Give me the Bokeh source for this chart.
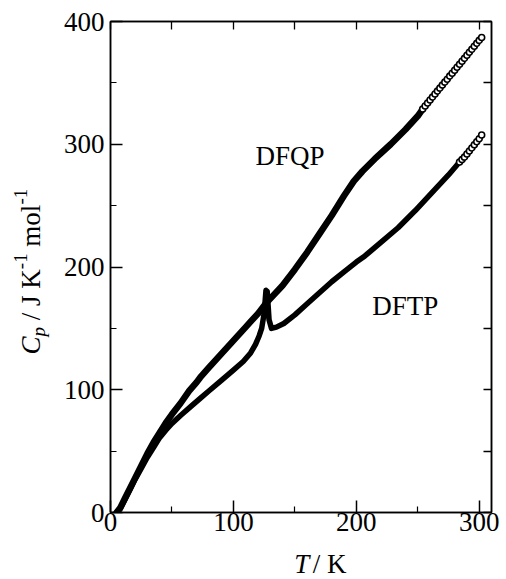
from bokeh.plotting import figure
from bokeh.models import Range1d, LinearAxis, FixedTicker, Label
from bokeh.layouts import row, column
from bokeh.embed import file_html
from bokeh.resources import INLINE
from bokeh.core.properties import value

# ---------------- data ----------------
dfqp_T = [5, 8, 12, 16, 20, 25, 30, 35, 40, 45, 50, 57, 64, 70, 73, 80, 90, 100, 110, 114,
          120, 127, 140, 150, 160, 170, 180, 190, 198, 205, 215, 228, 240, 250, 254]
dfqp_Cp = [0, 4, 12, 20, 28, 38, 48, 57, 65, 73, 80, 89, 99, 106, 110, 118, 129, 140, 151, 155.5,
           162, 171, 185, 198, 212, 227, 242, 258, 270, 278, 288, 300, 312, 323, 328.7]
dfqp_open_T = [254, 256, 258, 260, 262, 264, 266, 268, 270, 272, 274, 276, 278, 280, 282,
               284, 286, 288, 290, 292, 294, 296, 298, 300, 302]
dfqp_open_Cp = [328.7, 331.1, 333.6, 336.0, 338.4, 340.9, 343.3, 345.7, 348.2, 350.6, 353.0,
                355.5, 357.9, 360.3, 362.7, 365.2, 367.6, 370.0, 372.5, 374.9, 377.3, 379.8,
                382.2, 384.6, 387.0]

dftp_T = [5, 8, 12, 16, 20, 25, 30, 35, 40, 45, 50, 57, 65, 73, 80, 90, 100, 108, 114, 118,
          121, 123, 125, 126.5, 127.5, 129, 131, 135, 141, 150, 160, 170, 180, 190, 200, 207,
          220, 234, 248, 261, 275, 284]
dftp_Cp = [0, 3, 11, 19, 27, 36, 45, 53, 61, 67, 72.5, 79, 86, 93, 99, 107.5, 116, 123, 130, 137,
           144, 150, 162, 181, 180, 157, 150, 151, 154, 161, 170, 179, 188, 196, 204, 209,
           220, 232, 246, 260, 275, 285.5]
dftp_open_T = [284, 286, 288, 290, 292, 294, 296, 298, 300, 302]
dftp_open_Cp = [285.5, 287.5, 289.5, 292.0, 294.5, 297.0, 299.5, 302.0, 304.5, 307.5]

x_major = [0, 100, 200, 300]
x_minor = [50, 150, 250]
y_major = [0, 100, 200, 300, 400]
y_minor = [50, 150, 250, 350]

FONT = "Liberation Serif"
ROT = 1.5707963267948966

# ---------------- layout geometry (page coordinates) ----------------
W, H = 506, 579          # whole page
LW = 56                  # left strip (y title)
BH = 34                  # bottom strip (x title)
PW, PH = W - LW, H - BH  # main figure
FRAME_L, FRAME_R, FRAME_T, FRAME_B = 110, 491, 21, 512

# ---------------- main figure ----------------
p = figure(width=PW, height=PH, x_range=Range1d(0, 310), y_range=Range1d(0, 400),
           output_backend="svg", toolbar_location=None,
           min_border_left=FRAME_L - LW, min_border_right=W - FRAME_R,
           min_border_top=FRAME_T, min_border_bottom=PH - FRAME_B)
p.xgrid.visible = False
p.ygrid.visible = False
p.outline_line_color = "black"
p.outline_line_width = 1.5
p.background_fill_color = "white"
p.border_fill_color = "white"


def style_axis(ax, ticks, minor, standoff):
    ax.ticker = FixedTicker(ticks=ticks, minor_ticks=minor)
    ax.axis_line_color = "black"
    ax.axis_line_width = 1.5
    ax.major_tick_line_color = "black"
    ax.major_tick_line_width = 1.5
    ax.minor_tick_line_color = "black"
    ax.minor_tick_line_width = 1.2
    ax.major_tick_in = 12
    ax.major_tick_out = 0
    ax.minor_tick_in = 6
    ax.minor_tick_out = 0
    ax.axis_label = None
    ax.major_label_text_font = FONT
    ax.major_label_text_font_size = "27px"
    ax.major_label_text_color = "black"
    ax.major_label_standoff = standoff


style_axis(p.xaxis[0], x_major, x_minor, 0)
style_axis(p.yaxis[0], y_major, y_minor, 6)


def mirror_axis(ticks):
    # tick marks only (no major ticks -> no labels)
    ax = LinearAxis(ticker=FixedTicker(ticks=[], minor_ticks=ticks))
    ax.axis_line_color = "black"
    ax.axis_line_width = 1.5
    ax.minor_tick_line_color = "black"
    ax.minor_tick_line_width = 1.3
    ax.minor_tick_in = 8
    ax.minor_tick_out = 0
    ax.major_tick_in = 0
    ax.major_tick_out = 0
    ax.axis_label = None
    ax.major_label_standoff = 0
    return ax


p.add_layout(mirror_axis(sorted(x_major + x_minor)), "above")
p.add_layout(mirror_axis(sorted(y_major + y_minor)), "right")

# ---------------- curves ----------------
p.line(dfqp_T, dfqp_Cp, line_width=6.5, line_color="black", line_join="round", line_cap="round")
p.line(dftp_T, dftp_Cp, line_width=5.5, line_color="black", line_join="round", line_cap="round")
p.scatter(dfqp_open_T, dfqp_open_Cp, marker="circle", size=6, fill_color="white",
          line_color="black", line_width=1.6)
p.scatter(dftp_open_T, dftp_open_Cp, marker="circle", size=6, fill_color="white",
          line_color="black", line_width=1.6)

# ---------------- in-plot labels ----------------
p.add_layout(Label(x=118, y=290.5, text="DFQP", text_font=FONT, text_font_size="27px",
                   text_color="black", text_align="left", text_baseline="alphabetic"))
p.add_layout(Label(x=213, y=168.5, text="DFTP", text_font=FONT, text_font_size="27px",
                   text_color="black", text_align="left", text_baseline="alphabetic"))


def strip(width, height):
    f = figure(width=width, height=height, x_range=Range1d(0, width), y_range=Range1d(0, height),
               output_backend="svg", toolbar_location=None,
               x_axis_location=None, y_axis_location=None,
               min_border_left=0, min_border_right=0, min_border_top=0, min_border_bottom=0)
    f.xgrid.visible = False
    f.ygrid.visible = False
    f.outline_line_color = None
    f.background_fill_color = "white"
    f.border_fill_color = "white"
    return f


def put(f, txt, x, y, size, style="normal", angle=0.0):
    f.text(x=[x], y=[y], text=[txt], angle=angle, text_font=value(FONT),
           text_font_size=value(f"{size}px"), text_font_style=style, text_color="black",
           text_align="left", text_baseline="alphabetic")


# ---------------- y title strip: C_p / J K^-1 mol^-1 ----------------
lf = strip(LW, H)
put(lf, "C", 30, H - 354, 27, "italic", ROT)
put(lf, "p", 38.4, H - 336, 19, "italic", ROT)
put(lf, "/ J K", 30, H - 319.7, 27, "normal", ROT)
put(lf, "-1", 20.4, H - 268.7, 19, "normal", ROT)
put(lf, "mol", 30, H - 246.2, 27, "normal", ROT)
put(lf, "-1", 20.4, H - 204.1, 19, "normal", ROT)

# ---------------- x title strip: T / K ----------------
bf = strip(PW, BH)
put(bf, "T", 273 - LW, 16, 27, "italic")
put(bf, "/ K", 295 - LW, 16, 27, "normal")

layout = row(lf, column(p, bf))
open("out.html", "w").write(file_html(layout, INLINE))
